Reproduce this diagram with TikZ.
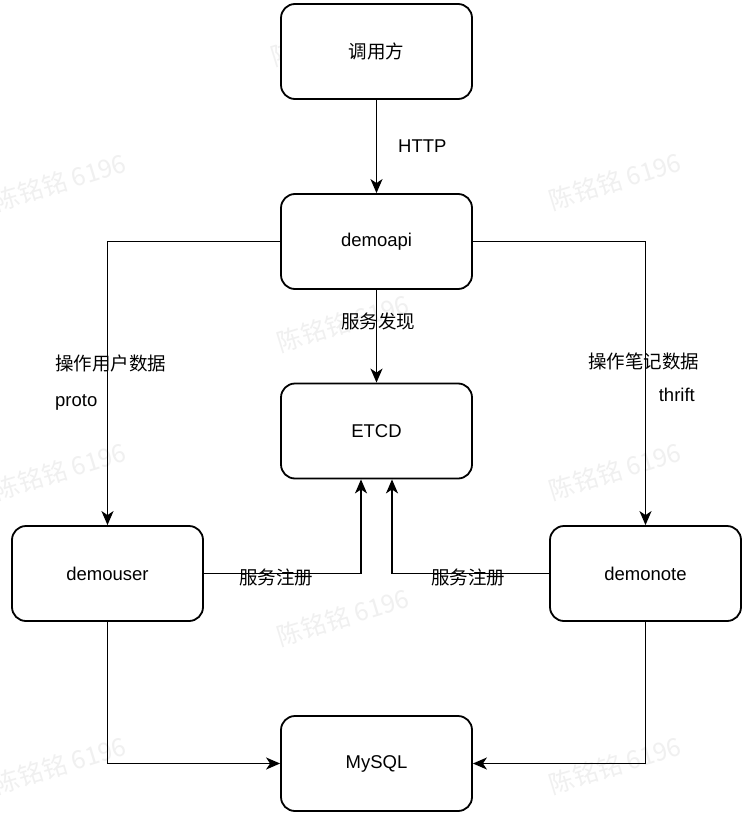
\documentclass[tikz,border=0pt]{standalone}
\usepackage{fontspec}
\setmainfont{Liberation Sans}
\newfontfamily\cjk{Noto Sans CJK SC}
\usetikzlibrary{arrows.meta}
\begin{document}
\begin{tikzpicture}[x=1pt,y=-1pt,
  box/.style={draw=black,line width=1.8pt,rounded corners=14pt,fill=white,
    minimum width=191pt,minimum height=95pt,inner sep=0pt,font=\fontsize{18.5}{22}\selectfont},
  arr/.style={line width=1.7pt,-{Stealth[length=14pt,width=12pt,inset=4pt]}},
  lbl/.style={inner sep=0pt,font=\fontsize{18.5}{22}\selectfont},
  wm/.style={text=black!6,rotate=17,font=\cjk\fontsize{25}{30}\selectfont,inner sep=0pt}]
\useasboundingbox[fill=white] (0,0) rectangle (751,821);
% watermarks
\foreach \p in {(337,37),(343,323),(343,617),(60,182),(615,181),(60,471),(615,471),(60,765),(615,765)}
  \node[wm] at \p {陈铭铭 6196};
% boxes
\node[box] (caller) at (376.5,51.5) {\cjk 调用方};
\node[box] (api) at (376.5,241.5) {demoapi};
\node[box] (etcd) at (376.5,431) {ETCD};
\node[box] (user) at (107.5,573.5) {demouser};
\node[box] (note) at (645.5,573.5) {demonote};
\node[box] (mysql) at (376.5,763.5) {MySQL};
% connectors
\draw[arr] (caller) -- (api);
\draw[arr] (api) -- (etcd);
\draw[arr] (api.west) -| (user.north);
\draw[arr] (api.east) -| (note.north);
\draw[arr] (user.east) -| ([xshift=-15.5pt]etcd.south);
\draw[arr] (note.west) -| ([xshift=15.5pt]etcd.south);
\draw[arr] (user.south) |- (mysql.west);
\draw[arr] (note.south) |- (mysql.east);
% labels
\node[lbl,anchor=west] (lhttp) at (398,146) {HTTP};
\node[lbl] (ldisc) at (378,321) {\cjk 服务发现};
\node[lbl] (luser) at (110.5,363) {\cjk 操作用户数据};
\node[lbl,anchor=west] (lproto) at (55,402) {proto};
\node[lbl] (lnote) at (643.5,361) {\cjk 操作笔记数据};
\node[lbl,anchor=east] (lthrift) at (695,395) {thrift};
\node[lbl] (lreg1) at (276,577) {\cjk 服务注册};
\node[lbl] (lreg2) at (468,577) {\cjk 服务注册};
\end{tikzpicture}
\end{document}
